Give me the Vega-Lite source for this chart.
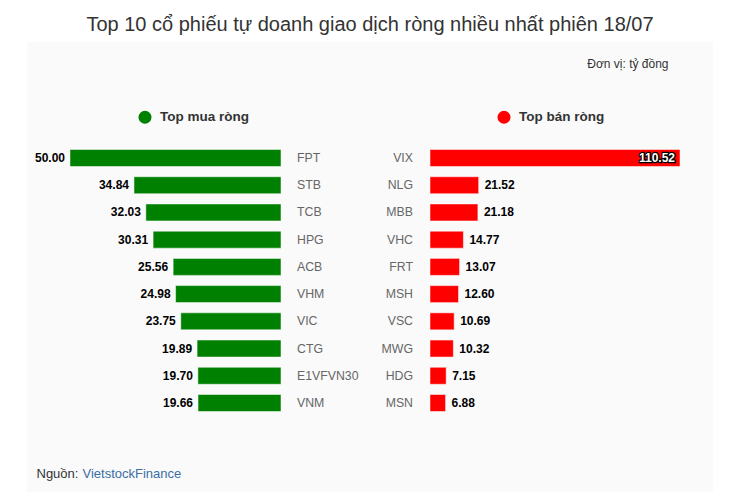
{
  "$schema": "https://vega.github.io/schema/vega-lite/v6.json",
  "width": 686,
  "height": 450,
  "autosize": {"type": "none"},
  "padding": {"left": 27, "top": 42, "right": 34, "bottom": 9},
  "background": "#ffffff",
  "title": {
    "text": "Top 10 cổ phiếu tự doanh giao dịch ròng nhiều nhất phiên 18/07",
    "fontSize": 20,
    "fontWeight": "normal",
    "color": "#333333",
    "anchor": "middle",
    "offset": 7
  },
  "data": {
    "values": [
      {"side": "Top mua ròng", "rank": 1, "ticker": "FPT", "value": 50.00},
      {"side": "Top mua ròng", "rank": 2, "ticker": "STB", "value": 34.84},
      {"side": "Top mua ròng", "rank": 3, "ticker": "TCB", "value": 32.03},
      {"side": "Top mua ròng", "rank": 4, "ticker": "HPG", "value": 30.31},
      {"side": "Top mua ròng", "rank": 5, "ticker": "ACB", "value": 25.56},
      {"side": "Top mua ròng", "rank": 6, "ticker": "VHM", "value": 24.98},
      {"side": "Top mua ròng", "rank": 7, "ticker": "VIC", "value": 23.75},
      {"side": "Top mua ròng", "rank": 8, "ticker": "CTG", "value": 19.89},
      {"side": "Top mua ròng", "rank": 9, "ticker": "E1VFVN30", "value": 19.70},
      {"side": "Top mua ròng", "rank": 10, "ticker": "VNM", "value": 19.66},
      {"side": "Top bán ròng", "rank": 1, "ticker": "VIX", "value": 110.52},
      {"side": "Top bán ròng", "rank": 2, "ticker": "NLG", "value": 21.52},
      {"side": "Top bán ròng", "rank": 3, "ticker": "MBB", "value": 21.18},
      {"side": "Top bán ròng", "rank": 4, "ticker": "VHC", "value": 14.77},
      {"side": "Top bán ròng", "rank": 5, "ticker": "FRT", "value": 13.07},
      {"side": "Top bán ròng", "rank": 6, "ticker": "MSH", "value": 12.60},
      {"side": "Top bán ròng", "rank": 7, "ticker": "VSC", "value": 10.69},
      {"side": "Top bán ròng", "rank": 8, "ticker": "MWG", "value": 10.32},
      {"side": "Top bán ròng", "rank": 9, "ticker": "HDG", "value": 7.15},
      {"side": "Top bán ròng", "rank": 10, "ticker": "MSN", "value": 6.88}
    ]
  },
  "encoding": {
    "y": {
      "field": "rank",
      "type": "ordinal",
      "scale": {"range": [107.5, 369.5], "paddingInner": 0.375, "paddingOuter": 0, "round": false},
      "axis": {
        "orient": "left",
        "labels": false,
        "ticks": false,
        "domain": false,
        "grid": false,
        "title": "VietstockFinance",
        "titleAngle": 0,
        "titleX": 55,
        "titleY": 431,
        "titleAlign": "left",
        "titleBaseline": "middle",
        "titleFontSize": 13,
        "titleFontWeight": "normal",
        "titleColor": "#3a6ea5"
      }
    }
  },
  "layer": [
    {
      "description": "Top mua ròng (left side)",
      "transform": [{"filter": "datum.side == 'Top mua ròng'"}],
      "encoding": {
        "x": {
          "field": "value",
          "type": "quantitative",
          "scale": {"domain": [0, 50], "range": [254, 43]},
          "axis": {
            "orient": "bottom",
            "labels": false,
            "ticks": false,
            "domain": false,
            "grid": false,
            "title": "Nguồn:",
            "titleX": 9,
            "titleY": -19,
            "titleAlign": "left",
            "titleBaseline": "middle",
            "titleFontSize": 13,
            "titleFontWeight": "normal",
            "titleColor": "#333333"
          }
        }
      },
      "layer": [
        {
          "mark": {"type": "bar", "stroke": "#ffffff", "strokeOpacity": 0.5, "strokeWidth": 1},
          "encoding": {
            "color": {
              "field": "side",
              "type": "nominal",
              "scale": {"domain": ["Top mua ròng", "Top bán ròng"], "range": ["#008000", "#ff0000"]},
              "legend": {
                "orient": "none",
                "direction": "horizontal",
                "legendX": 111,
                "legendY": 68,
                "title": null,
                "padding": 0,
                "symbolType": "circle",
                "symbolSize": 170,
                "symbolStrokeWidth": 0,
                "labelFontSize": 13.5,
                "labelFontWeight": "bold",
                "labelColor": "#333333",
                "labelOffset": 8,
                "columnPadding": 248
              }
            }
          }
        },
        {
          "mark": {"type": "text", "align": "right", "baseline": "middle", "dx": -5, "fontSize": 12, "fontWeight": "bold", "color": "#000000"},
          "encoding": {"text": {"field": "value", "type": "quantitative", "format": ".2f"}}
        },
        {
          "mark": {"type": "text", "align": "left", "baseline": "middle", "dx": 16, "fontSize": 12.3, "color": "#666666"},
          "encoding": {"x": {"datum": 0}, "text": {"field": "ticker"}}
        }
      ]
    },
    {
      "description": "Top bán ròng (right side)",
      "transform": [{"filter": "datum.side == 'Top bán ròng'"}],
      "encoding": {
        "x": {
          "field": "value",
          "type": "quantitative",
          "scale": {"domain": [0, 110.52], "range": [403, 653]},
          "axis": {
            "orient": "top",
            "labels": false,
            "ticks": false,
            "domain": false,
            "grid": false,
            "title": "Đơn vị: tỷ đồng",
            "titleX": 641,
            "titleY": 21,
            "titleAlign": "right",
            "titleBaseline": "middle",
            "titleFontSize": 12,
            "titleFontWeight": "normal",
            "titleColor": "#333333"
          }
        }
      },
      "layer": [
        {
          "mark": {"type": "bar", "stroke": "#ffffff", "strokeOpacity": 0.5, "strokeWidth": 1},
          "encoding": {"color": {"field": "side", "type": "nominal"}}
        },
        {
          "transform": [{"filter": "datum.value < 100"}],
          "mark": {"type": "text", "align": "left", "baseline": "middle", "dx": 6, "fontSize": 12, "fontWeight": "bold", "color": "#000000"},
          "encoding": {"text": {"field": "value", "type": "quantitative", "format": ".2f"}}
        },
        {
          "transform": [{"filter": "datum.value >= 100"}],
          "mark": {"type": "text", "align": "right", "baseline": "middle", "dx": -5, "fontSize": 12, "fontWeight": "bold", "fill": "#000000", "stroke": "#000000", "strokeWidth": 2.5, "strokeJoin": "round"},
          "encoding": {"text": {"field": "value", "type": "quantitative", "format": ".2f"}}
        },
        {
          "transform": [{"filter": "datum.value >= 100"}],
          "mark": {"type": "text", "align": "right", "baseline": "middle", "dx": -5, "fontSize": 12, "fontWeight": "bold", "color": "#ffffff"},
          "encoding": {"text": {"field": "value", "type": "quantitative", "format": ".2f"}}
        },
        {
          "mark": {"type": "text", "align": "right", "baseline": "middle", "dx": -17, "fontSize": 12.3, "color": "#666666"},
          "encoding": {"x": {"datum": 0}, "text": {"field": "ticker"}}
        }
      ]
    }
  ],
  "resolve": {"scale": {"x": "independent"}, "axis": {"x": "independent"}},
  "config": {
    "font": "Liberation Sans",
    "view": {"fill": "#fafafa", "stroke": null}
  }
}
